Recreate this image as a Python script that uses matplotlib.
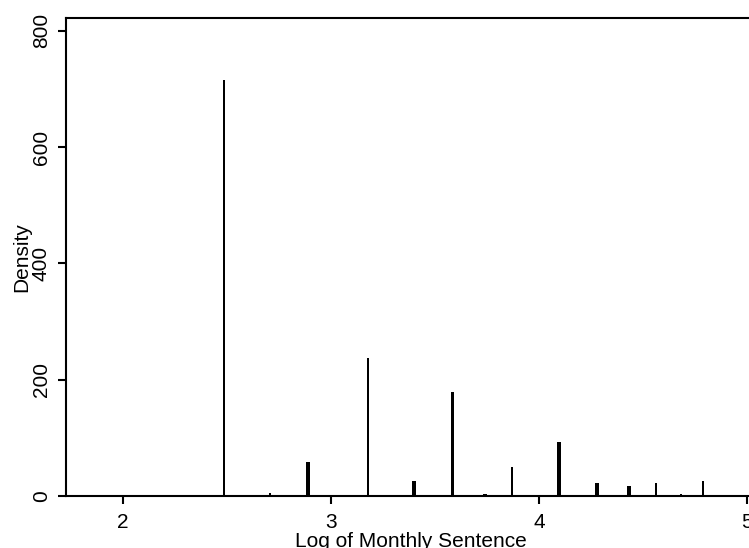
#!/usr/bin/python3

# Histogram of log monthly sentence (spiky density plot)

import matplotlib
matplotlib.use('Agg')
import matplotlib.pyplot as plt

plt.rcParams['font.family'] = ['Liberation Sans', 'DejaVu Sans']

# log of sentence length in months
log_sentence = [1.79, 2.485, 2.708, 2.890, 3.178, 3.401, 3.584, 3.738,
                3.871, 3.989, 4.094, 4.277, 4.431, 4.564, 4.682, 4.787]
density = [2, 716, 6, 59, 237, 25, 179, 4,
           50, 2, 93, 22, 18, 23, 3, 26]
# some spikes render thicker than others
thick = [False, False, False, True, False, True, True, True,
         False, False, True, True, True, False, False, False]

x_ticks = [2, 3, 4, 5]
y_ticks = [0, 200, 400, 600, 800]

fig = plt.figure(figsize=(7.49, 5.48), dpi=100)
ax = fig.add_axes([66 / 749, 52 / 548, 689 / 749, 478 / 548])

widths = [0.019 if t else 0.009 for t in thick]
ax.bar(log_sentence, density, width=widths, color='black',
       edgecolor='none', align='center')

ax.set_xlim(1.726, 5.038)
ax.set_ylim(0, 822)
ax.set_xticks(x_ticks)
ax.set_yticks(y_ticks)
ax.set_yticklabels([str(v) for v in y_ticks], rotation=90, va='center')

for side in ('left', 'top', 'bottom', 'right'):
    ax.spines[side].set_linewidth(1.5)

ax.tick_params(axis='both', length=6, width=1.5, labelsize=15,
               color='black')
ax.tick_params(axis='y', pad=5)
ax.tick_params(axis='x', pad=6)

ax.set_xlabel('Log of Monthly Sentence', fontsize=15, labelpad=0)
ax.set_ylabel('Density', fontsize=15, labelpad=0)

fig.savefig('out.png', dpi=100)
